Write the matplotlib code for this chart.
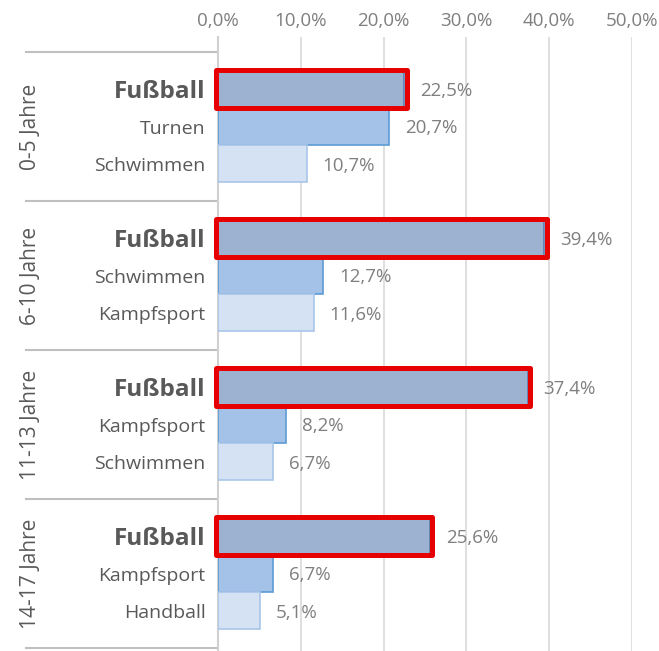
import matplotlib.pyplot as plt
import matplotlib.transforms as mtransforms
from matplotlib.patches import Rectangle

plt.rcParams['font.family'] = ['Open Sans', 'DejaVu Sans']

groups = ['0-5 Jahre', '6-10 Jahre', '11-13 Jahre', '14-17 Jahre']
sports = [['Fußball', 'Turnen', 'Schwimmen'],
          ['Fußball', 'Schwimmen', 'Kampfsport'],
          ['Fußball', 'Kampfsport', 'Schwimmen'],
          ['Fußball', 'Kampfsport', 'Handball']]
values = [[22.5, 20.7, 10.7],
          [39.4, 12.7, 11.6],
          [37.4, 8.2, 6.7],
          [25.6, 6.7, 5.1]]
xticks = [0, 10, 20, 30, 40, 50]

face = ['#9db2d0', '#a4c2e8', '#d4e2f3']
edge = ['#5a7db0', '#5b9bd5', '#a8c6ea']

W, H = 659, 651
fig = plt.figure(figsize=(W / 100, H / 100), dpi=100)
ax = fig.add_axes([218 / W, 0, (632 - 218) / W, (H - 37) / H])

ypos, labels, bold = [], [], []
for i, (grp, vals) in enumerate(zip(sports, values)):
    for j, (s, v) in enumerate(zip(grp, vals)):
        y = i * 4 + 1 + j
        ax.barh(y, v, height=1.0, color=face[j], edgecolor=edge[j], linewidth=1.2, zorder=3)
        ax.text(v + 1.9, y + 0.05, f"{v:.1f}".replace('.', ',') + '%', va='center', ha='left',
                fontsize=13.5, color='#7f7f7f')
        if j == 0:
            ax.add_patch(Rectangle((-0.2, y - 0.51), v + 0.5, 1.02, facecolor='none',
                                   edgecolor='#e60000', linewidth=3.6, joinstyle='round',
                                   zorder=4, clip_on=False))
        ypos.append(y)
        labels.append(s)
        bold.append(j == 0)

ax.set_xlim(0, 50)
ax.set_ylim(16.08, -0.403)
ax.set_xticks(xticks)
ax.set_xticklabels([f"{t:.1f}".replace('.', ',') + '%' for t in xticks], fontsize=13.5, color='#7f7f7f')
ax.xaxis.tick_top()
ax.tick_params(axis='x', length=0, pad=5)
ax.set_yticks(ypos)
ax.set_yticklabels(labels, fontsize=14, color='#595959')
for lab, b in zip(ax.get_yticklabels(), bold):
    if b:
        lab.set_fontweight('bold')
        lab.set_fontsize(17.5)
ax.tick_params(axis='y', length=0, pad=9)

ax.grid(axis='x', color='#d9d9d9', linewidth=1.2, zorder=0)
ax.set_axisbelow(True)
for sp in ['top', 'right', 'bottom']:
    ax.spines[sp].set_visible(False)
ax.spines['left'].set_color('#d0d0d0')
ax.spines['left'].set_linewidth(1.5)

trans = mtransforms.blended_transform_factory(ax.transAxes, ax.transData)
for k in range(len(groups) + 1):
    ax.plot([-0.464, -0.006], [k * 4, k * 4], color='#bfbfbf', linewidth=1.5,
            transform=trans, clip_on=False)
for i, g in enumerate(groups):
    ax.text(-0.452, i * 4 + 2, g, rotation=90, ha='center', va='center',
            fontsize=15, color='#595959', transform=trans)

fig.savefig('out.png', dpi=100)
